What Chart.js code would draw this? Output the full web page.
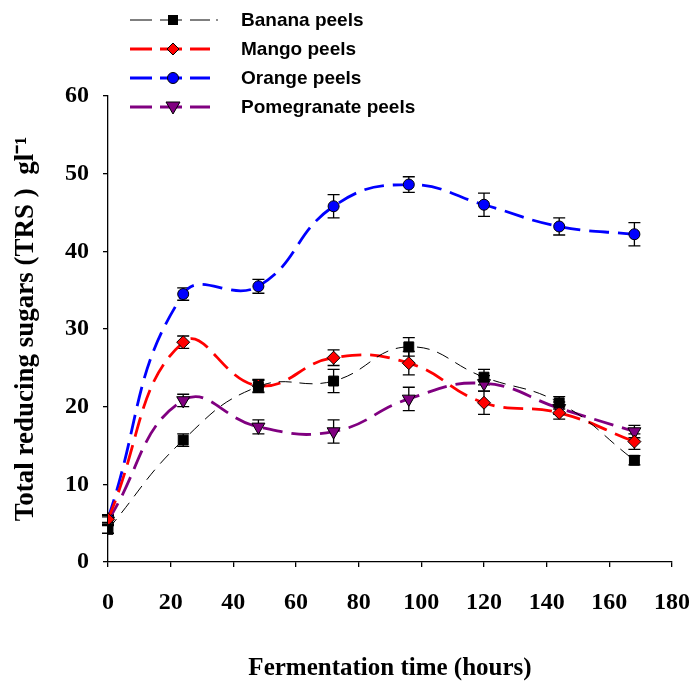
<!DOCTYPE html>
<html>
<head>
<meta charset="utf-8">
<script src="https://cdn.jsdelivr.net/npm/chart.js@4.4.1/dist/chart.umd.min.js"></script>
<style>
  body { margin: 0; background: #fff; }
  #wrap { position: relative; width: 689px; height: 686px; }
  #legend { position: absolute; left: 128px; top: 5px; font-family: "Liberation Sans", Arial, sans-serif; font-weight: bold; font-size: 19px; }
  .row { height: 29px; display: flex; align-items: center; }
  .row svg { margin-right: 31px; }
</style>
</head>
<body>
<div id="wrap">
  <canvas id="myChart" width="689" height="686"></canvas>
  <div id="legend"></div>
</div>
<script>
let hours = [0, 24, 48, 72, 96, 120, 144, 168];
let seriesNames = ['Banana peels', 'Mango peels', 'Orange peels', 'Pomegranate peels'];

let banana = [4.2, 15.7, 22.6, 23.3, 27.7, 23.8, 20.5, 13.1];
let mango = [5.5, 28.3, 22.7, 26.3, 25.6, 20.5, 19.2, 15.5];
let orange = [5.6, 34.5, 35.5, 45.8, 48.6, 46.0, 43.2, 42.2];
let pomegranate = [5.3, 20.8, 17.4, 16.8, 21.0, 23.0, 19.8, 16.8];

let bananaErr = [0.5, 0.8, 0.8, 1.5, 1.2, 1.0, 0.8, 0.6];
let mangoErr = [0.5, 0.8, 0.8, 1.0, 1.5, 1.5, 0.8, 1.0];
let orangeErr = [0.5, 0.8, 0.9, 1.5, 1.0, 1.5, 1.1, 1.5];
let pomegranateErr = [0.5, 0.8, 0.9, 1.5, 1.5, 1.0, 0.8, 0.8];

let xTicks = [0, 20, 40, 60, 80, 100, 120, 140, 160, 180];
let yTicks = [0, 10, 20, 30, 40, 50, 60];

function pts(vals) {
    return vals.map((v, i) => ({x: hours[i], y: v}));
}

const styles = [
    {color: '#000000', fill: '#000000', width: 1, dash: [13, 8], point: 'rect', radius: 7, rot: 0},
    {color: '#ff0000', fill: '#ff0000', width: 2.8, dash: [20, 9], point: 'rectRot', radius: 6.5, rot: 0},
    {color: '#0000ff', fill: '#0000ff', width: 2.8, dash: [20, 9], point: 'circle', radius: 5.5, rot: 0},
    {color: '#800080', fill: '#800080', width: 2.8, dash: [20, 9], point: 'triangle', radius: 7.5, rot: 180}
];
const allData = [banana, mango, orange, pomegranate];
const allErr = [bananaErr, mangoErr, orangeErr, pomegranateErr];

const errorBars = {
    id: 'errorBars',
    beforeDatasetsDraw(chart) {
        const ctx = chart.ctx;
        const yScale = chart.scales.y;
        const xScale = chart.scales.x;
        ctx.save();
        ctx.strokeStyle = '#000';
        ctx.lineWidth = 1.3;
        allData.forEach((vals, d) => {
            vals.forEach((v, i) => {
                const px = xScale.getPixelForValue(hours[i]);
                const top = yScale.getPixelForValue(v + allErr[d][i]);
                const bot = yScale.getPixelForValue(v - allErr[d][i]);
                ctx.beginPath();
                ctx.moveTo(px, top); ctx.lineTo(px, bot);
                ctx.moveTo(px - 6, top); ctx.lineTo(px + 6, top);
                ctx.moveTo(px - 6, bot); ctx.lineTo(px + 6, bot);
                ctx.stroke();
            });
        });
        ctx.restore();
    }
};

const serif = '"Liberation Serif", "Times New Roman", serif';
const tickFont = {family: serif, weight: 'bold', size: 24};
const ctx = document.getElementById('myChart');

new Chart(ctx, {
    type: 'line',
    data: {
        datasets: allData.map((vals, d) => ({
            label: seriesNames[d],
            data: pts(vals),
            borderColor: styles[d].color,
            borderWidth: styles[d].width,
            borderDash: styles[d].dash,
            backgroundColor: styles[d].fill,
            pointBackgroundColor: styles[d].fill,
            pointBorderColor: '#000',
            pointBorderWidth: 1,
            pointStyle: styles[d].point,
            pointRadius: styles[d].radius,
            pointRotation: styles[d].rot,
            tension: 0.45,
            fill: false
        }))
    },
    options: {
        responsive: false,
        animation: false,
        layout: {autoPadding: false, padding: {top: 96, right: 17, left: 0, bottom: 0}},
        plugins: {legend: {display: false}, tooltip: {enabled: false}},
        scales: {
            x: {
                type: 'linear',
                min: 0, max: 180,
                afterBuildTicks: s => { s.ticks = xTicks.map(v => ({value: v})); },
                afterFit: s => { s.height = 124; s.paddingLeft = 0; s.paddingRight = 0; },
                ticks: {color: '#000', font: tickFont, padding: 21, maxRotation: 0},
                grid: {display: true, drawOnChartArea: false, drawTicks: true, tickLength: 5, color: '#000', lineWidth: 1.3},
                border: {color: '#000', width: 1.3},
                title: {display: true, text: 'Fermentation time (hours)', color: '#000', font: {family: serif, weight: 'bold', size: 25}, padding: {top: 4, bottom: 2}}
            },
            y: {
                min: 0, max: 60,
                afterBuildTicks: s => { s.ticks = yTicks.map(v => ({value: v})); },
                afterFit: s => { s.width = 108; s.paddingTop = 0; s.paddingBottom = 0; },
                ticks: {color: '#000', font: tickFont, padding: 14},
                grid: {display: true, drawOnChartArea: false, drawTicks: true, tickLength: 5, color: '#000', lineWidth: 1.3},
                border: {color: '#000', width: 1.3},
                title: {display: true, text: 'Total reducing sugars (TRS )  gl\u207B\u00B9', color: '#000', font: {family: serif, weight: 'bold', size: 27}, padding: {top: 10, bottom: 0}}
            }
        }
    },
    plugins: [errorBars]
});

// legend drawn as html with small svg samples
let legendHtml = '';
styles.forEach((s, d) => {
    let marker = '';
    if (s.point === 'rect') marker = '<rect x="40" y="9" width="10" height="10" fill="#000"/><circle cx="89" cy="14" r="0.8" fill="#000"/>';
    if (s.point === 'rectRot') marker = '<polygon points="45,8 51,14 45,20 39,14" fill="' + s.fill + '" stroke="#000"/>';
    if (s.point === 'circle') marker = '<circle cx="45" cy="14" r="5.5" fill="' + s.fill + '" stroke="#000"/>';
    if (s.point === 'triangle') marker = '<polygon points="38,9 52,9 45,21" fill="' + s.fill + '" stroke="#000"/>';
    legendHtml += '<div class="row"><svg width="82" height="28" style="overflow:visible">'
        + '<line x1="2" y1="14" x2="82" y2="14" stroke="' + s.color + '" stroke-width="' + (s.width === 1 ? 1 : 2.8) + '" stroke-dasharray="22,8"/>'
        + marker + '</svg><span>' + seriesNames[d] + '</span></div>';
});
document.getElementById('legend').innerHTML = legendHtml;
</script>
</body>
</html>
